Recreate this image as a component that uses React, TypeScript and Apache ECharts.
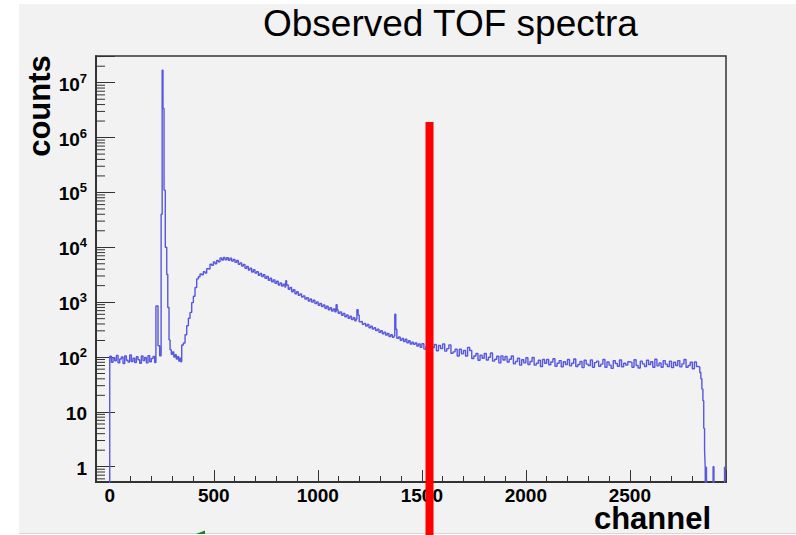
import React, { useEffect, useRef } from "react";
import * as echarts from "echarts";

const FONT = '"Liberation Sans", Arial, Helvetica, sans-serif';

const titleText = "Observed TOF spectra";
const xAxisTitle = "channel";
const yAxisTitle = "counts";

const channelMin = -66;
const channelMax = 2962;
const countMin = 0.526;
const countMax = 3.07e7;

// [channel (bin low edge), counts]
const leadIn: [number, number][] = [[-66, 0.01]];

const pedestal: [number, number][] = [
  [0, 103], [8, 80], [16, 97], [24, 85], [32, 107], [40, 78], [48, 92], [56, 100],
  [64, 76], [72, 105], [80, 87], [88, 81], [96, 109], [104, 83], [112, 95], [120, 79],
  [128, 101], [136, 89], [144, 77], [152, 104], [160, 86], [168, 98], [176, 78], [184, 106],
  [192, 82], [200, 94], [208, 102], [216, 79],
];

const promptPeak: [number, number][] = [
  [222, 850], [232, 160], [240, 105], [247, 4.0e4], [252, 1.7e7], [256, 3.4e6],
  [261, 1.1e5], [267, 1.0e4], [274, 3.2e3], [279, 800], [285, 205], [290, 135],
  [296, 112], [302, 124], [308, 100], [314, 110], [320, 92], [326, 101], [332, 84],
  [338, 95], [342, 82],
];

const broadBump: [number, number][] = [
  [346, 165], [354, 180], [362, 255], [370, 370], [378, 510], [386, 650], [394, 980],
  [402, 1280], [410, 1850], [418, 2650], [426, 2900], [434, 3250], [442, 3150], [450, 3600],
  [458, 3400], [466, 4050], [474, 4000], [482, 4900], [490, 4700], [498, 5400], [506, 5000],
  [514, 5750], [522, 5450], [530, 6400], [538, 5850], [546, 6500], [554, 5900], [562, 6450],
  [570, 5800], [578, 6300], [586, 5600], [594, 6000], [602, 5300], [610, 5750], [618, 4900],
  [626, 5200], [634, 4550], [642, 4850], [650, 4150], [658, 4450], [666, 3850], [674, 4150],
  [682, 3550], [690, 3900], [698, 3400], [706, 3600], [714, 3100], [722, 3350], [730, 2920],
  [738, 3150], [746, 2720], [754, 2950], [762, 2500], [770, 2730], [778, 2340], [786, 2550],
  [794, 2200], [802, 2400], [810, 2050], [818, 2230], [826, 1960], [834, 2130], [842, 1880],
  [846, 2450], [850, 2050], [858, 1720], [866, 1850], [874, 1550], [882, 1680], [890, 1420],
  [898, 1550], [906, 1330], [914, 1410], [922, 1240], [930, 1300], [938, 1140], [946, 1210],
  [954, 1050], [962, 1140], [970, 1000], [978, 1080], [986, 940], [994, 1010], [1002, 880],
  [1010, 950], [1018, 830], [1026, 890], [1034, 775], [1042, 840], [1050, 725], [1058, 790],
  [1066, 690], [1074, 750], [1082, 665], [1088, 900], [1093, 720], [1098, 625], [1106, 665],
  [1114, 575], [1122, 625], [1130, 540], [1138, 585], [1146, 510], [1154, 555], [1162, 480],
  [1170, 520], [1178, 455], [1184, 490], [1188, 730], [1194, 580], [1199, 440], [1206, 445],
  [1214, 395], [1222, 410], [1230, 368], [1238, 390], [1246, 342], [1254, 366], [1262, 324],
  [1270, 342], [1278, 304], [1286, 322], [1294, 282], [1302, 300], [1310, 266], [1318, 284],
  [1326, 250], [1334, 268], [1342, 236], [1350, 255], [1358, 228], [1366, 242], [1370, 600],
  [1375, 320], [1380, 218], [1388, 232], [1396, 202], [1404, 218], [1412, 192], [1420, 210],
  [1428, 181], [1436, 198], [1444, 172], [1452, 186], [1460, 170], [1468, 180], [1476, 158],
  [1484, 172], [1492, 150],
];

const flatTail: [number, number][] = [
  [1500, 174], [1510, 139], [1520, 156], [1530, 179], [1540, 131], [1550, 148], [1560, 169],
  [1570, 130], [1580, 162], [1590, 142], [1600, 172], [1610, 128], [1620, 142], [1630, 166],
  [1640, 117], [1650, 124], [1660, 138], [1670, 104], [1680, 138], [1690, 114], [1700, 131],
  [1710, 104], [1720, 150], [1730, 131], [1740, 94], [1750, 104], [1760, 116], [1770, 87],
  [1780, 108], [1790, 95], [1800, 116], [1810, 88], [1820, 99], [1830, 118], [1840, 84],
  [1850, 91], [1860, 103], [1870, 78], [1880, 105], [1890, 88], [1900, 102], [1910, 81],
  [1920, 91], [1930, 104], [1940, 75], [1950, 83], [1960, 95], [1970, 71], [1980, 89],
  [1990, 78], [2000, 97], [2010, 73], [2020, 83], [2030, 98], [2040, 71], [2050, 77],
  [2060, 87], [2070, 67], [2080, 90], [2090, 77], [2100, 90], [2110, 72], [2120, 81],
  [2130, 93], [2140, 68], [2150, 77], [2160, 86], [2170, 66], [2180, 82], [2190, 73],
  [2200, 90], [2210, 69], [2220, 77], [2230, 92], [2240, 67], [2250, 73], [2260, 83],
  [2270, 64], [2280, 87], [2290, 74], [2300, 70], [2310, 88], [2320, 65], [2330, 79],
  [2340, 84], [2350, 68], [2360, 74], [2370, 90], [2380, 65], [2390, 81], [2400, 71],
  [2410, 62], [2420, 86], [2430, 76], [2440, 68], [2450, 88], [2460, 66], [2470, 77],
  [2480, 71], [2490, 82], [2500, 80], [2510, 65], [2520, 89], [2530, 70], [2540, 63],
  [2550, 84], [2560, 75], [2570, 67], [2580, 87], [2590, 73], [2600, 82], [2610, 65],
  [2620, 91], [2630, 69], [2640, 78], [2650, 65], [2660, 86], [2670, 74], [2680, 67],
  [2690, 84], [2700, 64], [2710, 80], [2720, 70], [2730, 86], [2740, 66], [2750, 75],
  [2760, 90], [2770, 65], [2780, 70], [2790, 80], [2800, 61], [2810, 81], [2820, 67],
  [2830, 66], [2836, 52], [2841, 40], [2846, 26], [2851, 16], [2855, 5], [2859, 2],
  [2862, 1], [2865, 0.01], [2868, 1], [2871, 0.01], [2900, 1], [2904, 0.01], [2955, 1],
  [2958, 0.01],
];

const spectrum: [number, number][] = [
  ...leadIn, ...pedestal, ...promptPeak, ...broadBump, ...flatTail,
];

// log-axis minor ticks (2..9 of each decade)
const minorMultipliers = [2, 3, 4, 5, 6, 7, 8, 9];
const decades = [0.1, 1, 10, 100, 1e3, 1e4, 1e5, 1e6, 1e7];
const yMinorTicks: number[] = [];
decades.forEach((d) =>
  minorMultipliers.forEach((m) => {
    const v = d * m;
    if (v > countMin && v < countMax) yMinorTicks.push(v);
  })
);

// red marker line: channel and top count (runs down past the frame)
const markers: [number, number][] = [[1537, 1.92e6]];

export default function App() {
  const ref = useRef<HTMLDivElement>(null);
  useEffect(() => {
    if (!ref.current) return;
    const chart = echarts.init(ref.current, null, { renderer: "svg" });
    const option: any = {
      animation: false,
      backgroundColor: "#ffffff",
      title: {
        text: titleText,
        left: 263,
        top: 5,
        padding: 0,
        textStyle: {
          fontFamily: FONT,
          fontSize: 37,
          fontWeight: "normal",
          color: "#000",
          lineHeight: 37,
        },
      },
      graphic: [
        {
          type: "rect",
          z: -100,
          silent: true,
          shape: { x: 19, y: 4, width: 777, height: 529 },
          style: { fill: "#f2f2f2" },
        },
        {
          type: "line",
          z: -99,
          silent: true,
          shape: { x1: 19, y1: 533.5, x2: 796, y2: 533.5 },
          style: { stroke: "#d6d6d6", lineWidth: 1 },
        },
        {
          type: "text",
          x: 39.5,
          y: 106,
          rotation: Math.PI / 2,
          silent: true,
          style: {
            text: yAxisTitle,
            fontFamily: FONT,
            fontSize: 31,
            fontWeight: "bold",
            fill: "#000",
            align: "center",
            verticalAlign: "middle",
            lineHeight: 24,
          },
        },
        {
          type: "text",
          x: 652.5,
          y: 518,
          silent: true,
          style: {
            text: xAxisTitle,
            fontFamily: FONT,
            fontSize: 31,
            fontWeight: "bold",
            fill: "#000",
            align: "center",
            verticalAlign: "middle",
            lineHeight: 24,
          },
        },
        {
          type: "polygon",
          silent: true,
          shape: { points: [[196, 534], [205, 530.5], [205, 534]] },
          style: { fill: "#128a12" },
        },
      ],
      grid: {
        left: 96,
        top: 56,
        right: 70,
        bottom: 53,
        show: true,
        backgroundColor: "#f2f2f2",
        borderColor: "#333",
        borderWidth: 1.5,
        containLabel: false,
        outerBoundsMode: "none",
      },
      xAxis: {
        type: "value",
        min: channelMin,
        max: channelMax,
        splitNumber: 6,
        axisLine: { show: true, onZero: false, lineStyle: { color: "#333", width: 2 } },
        axisTick: { show: true, inside: true, length: 12, lineStyle: { color: "#333", width: 1 } },
        minorTick: { show: true, splitNumber: 5, length: 6, lineStyle: { color: "#333", width: 1 } },
        splitLine: { show: false },
        minorSplitLine: { show: false },
        axisLabel: {
          margin: 5,
          fontFamily: FONT,
          fontSize: 19,
          fontWeight: "bold",
          color: "#000",
          lineHeight: 17,
          formatter: (v: number) => (Math.abs(v % 500) < 1e-6 ? String(v) : ""),
        },
      },
      yAxis: {
        type: "log",
        logBase: 10,
        min: countMin,
        max: countMax,
        axisLine: { show: true, onZero: false, lineStyle: { color: "#333", width: 2 } },
        axisTick: { show: true, inside: true, length: 19, lineStyle: { color: "#333", width: 1 } },
        minorTick: { show: false },
        splitLine: { show: false },
        axisLabel: {
          margin: 9,
          fontFamily: FONT,
          color: "#000",
          formatter: (v: number) => {
            const lg = Math.log10(v);
            const n = Math.round(lg);
            if (Math.abs(lg - n) > 1e-6) return "";
            if (n === 0) return "{b|1}";
            if (n === 1) return "{b|10}";
            return "{b|10}{s|" + n + "}";
          },
          rich: {
            b: {
              fontFamily: FONT,
              fontSize: 19,
              fontWeight: "bold",
              color: "#000",
              lineHeight: 22,
              verticalAlign: "bottom",
            },
            s: {
              fontFamily: FONT,
              fontSize: 13,
              fontWeight: "bold",
              color: "#000",
              lineHeight: 14,
              verticalAlign: "top",
            },
          },
        },
      },
      series: [
        {
          type: "custom",
          silent: true,
          z: 4,
          data: yMinorTicks.map((v) => [0, v]),
          renderItem: (params: any, api: any) => {
            const p = api.coord([0, api.value(1)]);
            const x0 = params.coordSys.x;
            return {
              type: "line",
              shape: { x1: x0, y1: p[1], x2: x0 + 9, y2: p[1] },
              style: { stroke: "#333", lineWidth: 1 },
            };
          },
        },
        {
          type: "line",
          data: spectrum,
          step: "end",
          showSymbol: false,
          symbol: "none",
          clip: true,
          silent: true,
          z: 3,
          lineStyle: { color: "#5757df", width: 1.4 },
        },
        {
          type: "custom",
          silent: true,
          clip: false,
          z: 10,
          data: markers,
          renderItem: (params: any, api: any) => {
            const p = api.coord([api.value(0), api.value(1)]);
            const h = api.getHeight();
            return {
              type: "rect",
              shape: { x: p[0] - 4, y: p[1], width: 8, height: h - p[1] },
              style: { fill: "#ff0000" },
            };
          },
        },
      ],
    };
    chart.setOption(option);
    return () => chart.dispose();
  }, []);
  return (
    <div
      ref={ref}
      style={{ position: "absolute", left: 0, top: 0, width: 796, height: 535 }}
    />
  );
}
